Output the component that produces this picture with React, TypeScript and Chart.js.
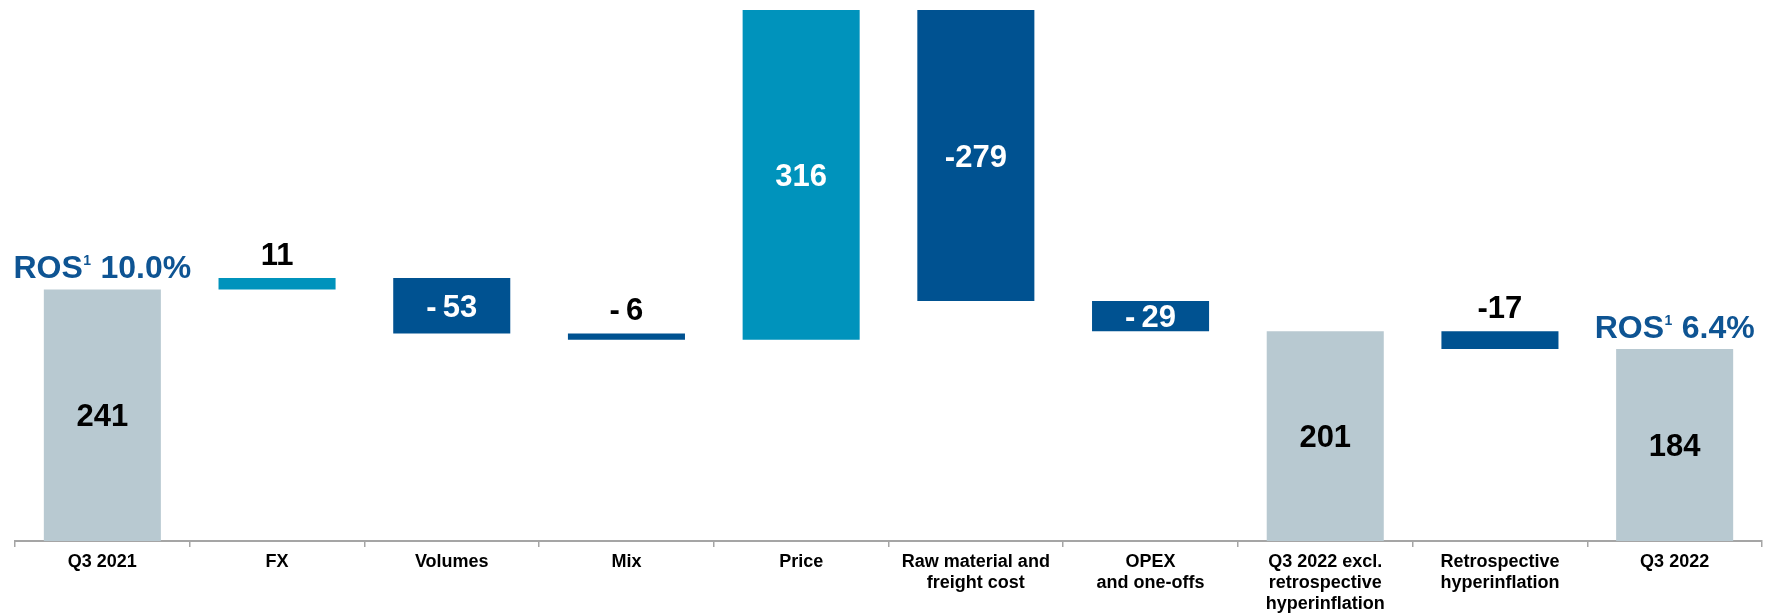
import React, { useEffect, useRef } from "react";
import { Chart, registerables } from "chart.js";

Chart.register(...registerables);

const FONT = "'Liberation Sans', Arial, Helvetica, sans-serif";

const categories: string[][] = [
  ["Q3 2021"],
  ["FX"],
  ["Volumes"],
  ["Mix"],
  ["Price"],
  ["Raw material and", "freight cost"],
  ["OPEX", "and one-offs"],
  ["Q3 2022 excl.", "retrospective", "hyperinflation"],
  ["Retrospective", "hyperinflation"],
  ["Q3 2022"],
];
const changes = [241, 11, -53, -6, 316, -279, -29, 201, -17, 184];
const isTotal = [true, false, false, false, false, false, false, true, false, true];
const valueLabels = ["241", "11", "-\u200953", "-\u20096", "316", "-279", "-\u200929", "201", "-17", "184"];
const rosLabels = ["10.0%", "", "", "", "", "", "", "", "", "6.4%"];

const Y_MAX = 509;

const COLOR_TOTAL = "#B8C9D1";
const COLOR_POS = "#0093BC";
const COLOR_NEG = "#005291";
const COLOR_ROS = "#0E5493";

function buildRanges(): [number, number][] {
  let run = 0;
  return changes.map((v, i) => {
    if (isTotal[i]) {
      run = v;
      return [0, v] as [number, number];
    }
    const start = run;
    run += v;
    return [start, run] as [number, number];
  });
}

const labelPlugin = {
  id: "wfLabels",
  afterDatasetsDraw(chart: any) {
    const ctx = chart.ctx as CanvasRenderingContext2D;
    const area = chart.chartArea;
    const meta = chart.getDatasetMeta(0);
    meta.data.forEach((bar: any, i: number) => {
      const p = bar.getProps(["x", "y", "base"], true);
      const top = Math.max(Math.min(p.y, p.base), area.top);
      const bottom = Math.max(p.y, p.base);
      const h = bottom - top;
      const text = valueLabels[i];
      ctx.save();
      ctx.textAlign = "center";
      ctx.textBaseline = "alphabetic";
      const size = 31;
      ctx.font = `bold ${size}px ${FONT}`;
      const capHalf = size * 0.358;
      if (h > 28) {
        const yc = (top + bottom) / 2;
        ctx.fillStyle = isTotal[i] ? "#000000" : "#FFFFFF";
        ctx.fillText(text, p.x, yc + capHalf);
      } else {
        const yc = top - 24;
        ctx.fillStyle = "#000000";
        ctx.fillText(text, p.x, yc + capHalf);
      }
      const ros = rosLabels[i];
      if (ros) {
        const big = 32;
        const sup = 14;
        const yc = top - 23;
        const base = yc + big * 0.358;
        ctx.fillStyle = COLOR_ROS;
        ctx.font = `bold ${big}px ${FONT}`;
        const w1 = ctx.measureText("ROS").width;
        const w3 = ctx.measureText(" " + ros).width;
        ctx.font = `bold ${sup}px ${FONT}`;
        const w2 = ctx.measureText("1").width + 1;
        const total = w1 + w2 + w3;
        let x = p.x - total / 2;
        ctx.textAlign = "left";
        ctx.font = `bold ${big}px ${FONT}`;
        ctx.fillText("ROS", x, base);
        x += w1;
        ctx.font = `bold ${sup}px ${FONT}`;
        ctx.fillText("1", x + 0.5, base - big * 0.716 + sup * 0.716);
        x += w2;
        ctx.font = `bold ${big}px ${FONT}`;
        ctx.fillText(" " + ros, x, base);
      }
      ctx.restore();
    });
  },
};

export default function App() {
  const ref = useRef<HTMLCanvasElement | null>(null);

  useEffect(() => {
    if (!ref.current) return;
    const ranges = buildRanges();
    const colors = changes.map((v, i) =>
      isTotal[i] ? COLOR_TOTAL : v >= 0 ? COLOR_POS : COLOR_NEG
    );
    const chart = new Chart(ref.current, {
      type: "bar",
      data: {
        labels: categories,
        datasets: [
          {
            data: ranges as any,
            backgroundColor: colors,
            borderWidth: 0,
            barPercentage: 0.67,
            categoryPercentage: 1,
          },
        ],
      },
      options: {
        responsive: false,
        animation: false,
        devicePixelRatio: 1,
        layout: { padding: { top: 10, left: 15, right: 5, bottom: 0 } },
        plugins: {
          legend: { display: false },
          tooltip: { enabled: false },
          title: { display: false },
        },
        scales: {
          x: {
            grid: {
              display: true,
              drawOnChartArea: false,
              drawTicks: true,
              tickLength: 6,
              color: "#A5A5A5",
              lineWidth: 1.5,
              offset: true,
            },
            border: { display: true, color: "#A5A5A5", width: 2 },
            ticks: {
              color: "#000000",
              padding: 5,
              autoSkip: false,
              maxRotation: 0,
              font: { family: FONT, size: 18, weight: "bold", lineHeight: 1.1667 },
            },
            afterFit: (scale: any) => {
              scale.height = 75;
            },
          },
          y: {
            display: false,
            min: 0,
            max: Y_MAX,
          },
        },
      },
      plugins: [labelPlugin],
    });
    return () => chart.destroy();
  }, []);

  return (
    <div style={{ position: "absolute", left: 0, top: 0, width: 1767, height: 616, background: "#fff" }}>
      <canvas ref={ref} width={1767} height={616} style={{ width: 1767, height: 616, display: "block" }} />
    </div>
  );
}
